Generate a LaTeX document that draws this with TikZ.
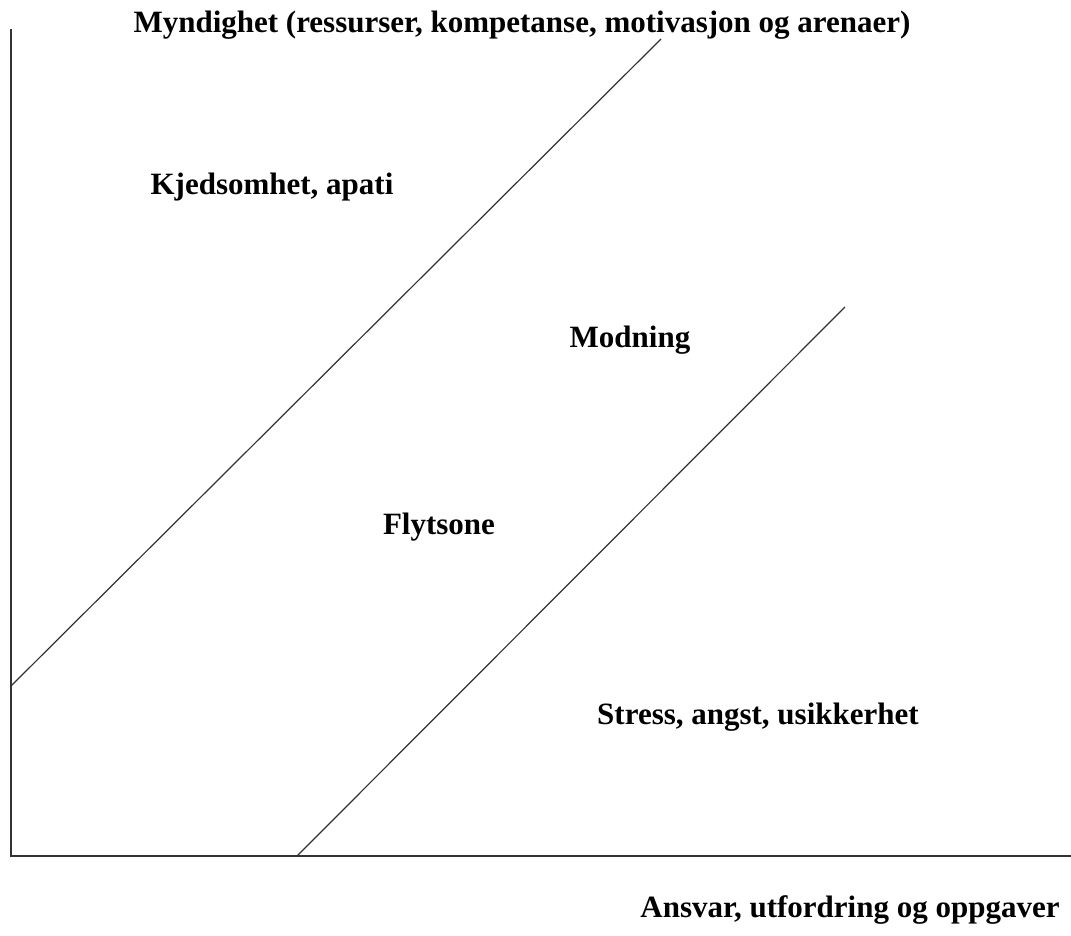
\documentclass[tikz,border=0pt]{standalone}
\usepackage{fontspec}
\setmainfont{Liberation Serif}
\begin{document}
\begin{tikzpicture}[x=1pt,y=-1pt,
  lbl/.style={font=\fontsize{31}{36}\selectfont\bfseries, inner sep=0pt},
  axis/.style={draw=black!80, line width=2pt},
  diag/.style={draw=black!80, line width=1.2pt}]
\useasboundingbox (0,0) rectangle (1071,935);
\coordinate (top) at (11,29);
\coordinate (origin) at (11,856);
\coordinate (right) at (1071,856);
\coordinate (a1) at (11,686);
\coordinate (a2) at (661,39);
\coordinate (b1) at (297,856);
\coordinate (b2) at (845,307);
\draw[axis] (top) -- (origin) -- (right);
\draw[diag] (a1) -- (a2);
\draw[diag] (b1) -- (b2);
\node[lbl] (ylab) at (522,25) {Myndighet (ressurser, kompetanse, motivasjon og arenaer)};
\node[lbl] (xlab) at (850,910) {Ansvar, utfordring og oppgaver};
\node[lbl] (kj) at (272,187) {Kjedsomhet, apati};
\node[lbl] (mod) at (630,340) {Modning};
\node[lbl] (fly) at (439,527) {Flytsone};
\node[lbl] (str) at (758,717) {Stress, angst, usikkerhet};
\end{tikzpicture}
\end{document}
